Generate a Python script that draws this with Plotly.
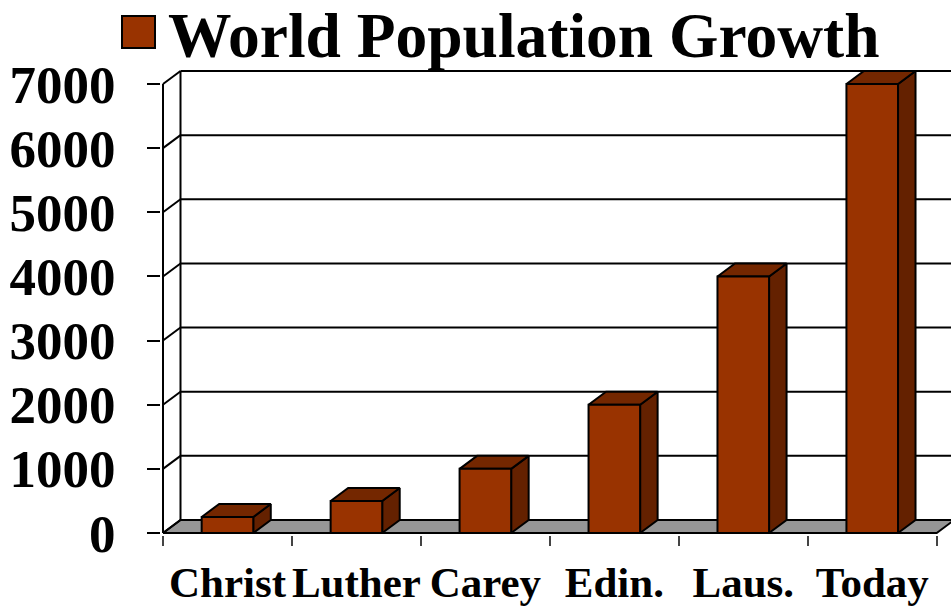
import plotly.graph_objects as go

# ---------------- data ----------------
categories = ["Christ", "Luther", "Carey", "Edin.", "Laus.", "Today"]
population = [250, 500, 1000, 2000, 4000, 7000]
y_ticks = [0, 1000, 2000, 3000, 4000, 5000, 6000, 7000]
legend_label = "World Population Growth"

# ---------------- geometry / style ----------------
W, H = 951, 608
L, R, T, B = 161, 0, 60, 73
PPX = 128.95            # px per category
PPY = 0.064143          # px per population unit
X0PX, Y0PX = 163, 533   # pixel of x=-0.5 / y=0
DX = 17.5 / PPX         # 3-D depth in data units
DY = 13.0 / PPY
HALF = 0.2              # half bar width
FONT = "Liberation Serif, Times New Roman, serif"
FRONT, TOP, SIDE = "#993300", "#742700", "#642100"
FLOOR = "#969696"

plot_w = W - L - R
plot_h = H - T - B
x_range = [-0.5 - (X0PX - L) / PPX, -0.5 + (W - R - X0PX) / PPX]
y_range = [-((H - B) - Y0PX) / PPY, (Y0PX - T) / PPY]

n = len(categories)
xl, xr = -0.5, n - 0.5
ytop = max(y_ticks)


def poly(pts, xs, ys):
    for px, py in pts:
        xs.append(px)
        ys.append(py)
    xs.append(pts[0][0])
    ys.append(pts[0][1])
    xs.append(None)
    ys.append(None)


fig = go.Figure()

# floor
fx, fy = [], []
poly([(xl, 0), (xr, 0), (xr + DX, DY), (xl + DX, DY)], fx, fy)
fig.add_trace(go.Scatter(x=fx, y=fy, mode="lines", fill="toself", fillcolor=FLOOR,
                         line=dict(color="black", width=2), hoverinfo="skip", showlegend=False))

# walls and gridlines
gx, gy = [], []
for v in y_ticks:
    gx += [xl, xl + DX, None]
    gy += [v, v + DY, None]
    if v > 0:
        gx += [xl + DX, xr + DX, None]
        gy += [v + DY, v + DY, None]
gx += [xl, xl, None, xl + DX, xl + DX, None]
gy += [0, ytop, None, DY, ytop + DY, None]
fig.add_trace(go.Scatter(x=gx, y=gy, mode="lines", line=dict(color="black", width=2),
                         hoverinfo="skip", showlegend=False))

# bars
sx, sy, tx, ty, ox, oy = [], [], [], [], [], []
for i, v in enumerate(population):
    a, b = i - HALF, i + HALF
    poly([(b, 0), (b + DX, DY), (b + DX, v + DY), (b, v)], sx, sy)
    poly([(a, v), (b, v), (b + DX, v + DY), (a + DX, v + DY)], tx, ty)
    poly([(a, 0), (b, 0), (b, v), (a, v)], ox, oy)
for xs, ys, col in [(sx, sy, SIDE), (tx, ty, TOP), (ox, oy, FRONT)]:
    fig.add_trace(go.Scatter(x=xs, y=ys, mode="lines", fill="toself", fillcolor=col,
                             line=dict(color="black", width=2), hoverinfo="skip",
                             showlegend=False))


def px2paper_x(p):
    return (p - L) / plot_w


def px2paper_y(p):
    return ((H - B) - p) / plot_h


# legend key + label
fig.add_shape(type="rect", xref="paper", yref="paper",
              x0=px2paper_x(122), x1=px2paper_x(155),
              y0=px2paper_y(48), y1=px2paper_y(16),
              fillcolor=FRONT, line=dict(color="black", width=2))
fig.add_annotation(text="<b>%s</b>" % legend_label, xref="paper", yref="paper",
                   x=px2paper_x(167), y=px2paper_y(36), xanchor="left", yanchor="middle",
                   showarrow=False, borderpad=0,
                   font=dict(family=FONT, size=63.5, color="black"))

fig.update_layout(
    width=W, height=H,
    margin=dict(l=L, r=R, t=T, b=B, pad=0, autoexpand=False),
    paper_bgcolor="white", plot_bgcolor="white",
    showlegend=False,
    xaxis=dict(range=x_range, showgrid=False, zeroline=False, showline=False,
               tickmode="array", tickvals=list(range(n)),
               ticktext=["<b>%s</b>" % c for c in categories],
               ticks="", tickfont=dict(family=FONT, size=43, color="black"),
               ticklabelstandoff=18, automargin=False,
               minor=dict(tickmode="array", tickvals=[k - 0.5 for k in range(n + 1)],
                          ticks="outside", ticklen=10, tickwidth=2, tickcolor="#444",
                          showgrid=False),
               fixedrange=True),
    yaxis=dict(range=y_range, showgrid=False, zeroline=False, showline=False,
               tickmode="array", tickvals=y_ticks,
               ticktext=["<b>%d</b>" % v for v in y_ticks],
               ticks="outside", ticklen=13, tickwidth=2, tickcolor="black",
               tickfont=dict(family=FONT, size=53, color="black"),
               ticklabelstandoff=21, automargin=False, fixedrange=True),
)

fig.write_html("out.html", config={"displayModeBar": False},
               post_script="document.body.style.margin='0';")
